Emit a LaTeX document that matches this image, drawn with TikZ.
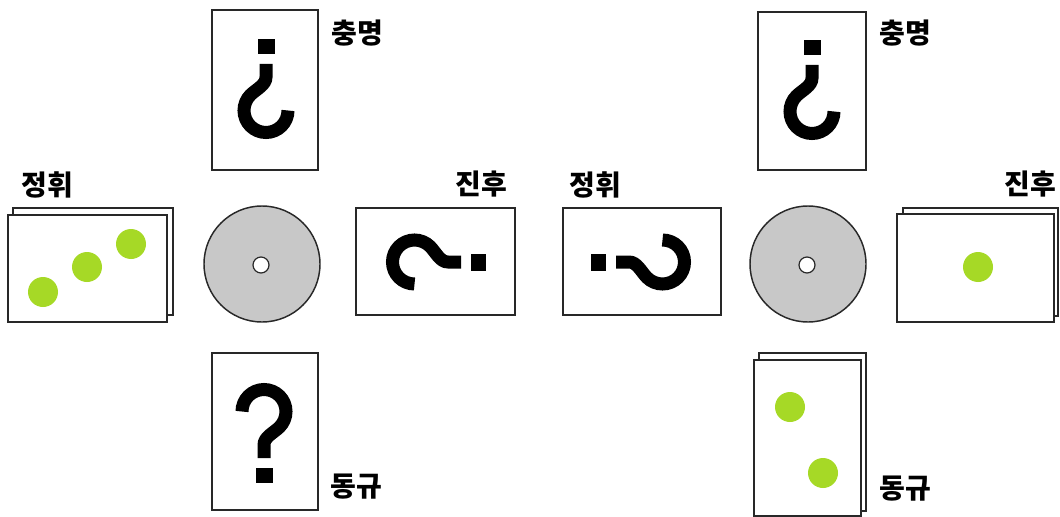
\documentclass[tikz,border=0pt]{standalone}
\usepackage{fontspec}
\newfontfamily\korfont{Noto Sans CJK KR}
\definecolor{lime}{RGB}{166,217,38}
\definecolor{edge}{RGB}{40,40,40}
\definecolor{disk}{RGB}{200,200,200}
% upright question mark drawn around (0,0), y pointing down
\newcommand\drawqmark{%
  \draw[qline] (-22,-21.5) arc[start angle=180, end angle=405, radius=22]
    .. controls (9.5,0) and (0,4) .. (0,12) -- (0,25);
  \fill (-8.5,35) rectangle (8.5,50);}
\begin{document}
\begin{tikzpicture}[x=0.75pt,y=-0.75pt,
  card/.style={draw=edge,line width=1.3pt,fill=white},
  dot/.style={fill=lime},
  disc/.style={draw=edge,line width=1.1pt,fill=disk},
  hole/.style={draw=edge,line width=0.9pt,fill=white},
  qline/.style={line width=9.75pt,line cap=butt},
  lab/.style={font=\korfont\bfseries\fontsize{21}{21}\selectfont,inner sep=0pt}]
\useasboundingbox (0,0) rectangle (1060,517);
% ---------- left group ----------
% left stacked card (정휘)
\draw[card] (13,208) rectangle (173,315);
\draw[card] (8,215) rectangle (167,322);
\fill[dot] (43,292) circle[radius=15];
\fill[dot] (87,267) circle[radius=15];
\fill[dot] (131,244) circle[radius=15];
\node[lab] (l1) at (47,185) {정휘};
% top card
\draw[card] (212,10) rectangle (318,170);
\begin{scope}[shift={(266,89)},rotate=180]\drawqmark\end{scope}
\node[lab] (l2) at (357,33) {충명};
% right card
\draw[card] (356,208) rectangle (515,315);
\begin{scope}[shift={(436,262)},rotate=90]\drawqmark\end{scope}
\node[lab] (l3) at (481,184) {진후};
% bottom card
\draw[card] (212,353) rectangle (318,510);
\begin{scope}[shift={(264,433)}]\drawqmark\end{scope}
\node[lab] (l4) at (356,487) {동규};
% disk
\draw[disc] (262,264) circle[radius=58];
\draw[hole] (261,265) circle[radius=8];
% ---------- right group ----------
% left card (정휘)
\draw[card] (563,208) rectangle (721,315);
\begin{scope}[shift={(641,262)},rotate=-90]\drawqmark\end{scope}
\node[lab] (l5) at (595,185) {정휘};
% top card
\draw[card] (758,12) rectangle (866,170);
\begin{scope}[shift={(812,90)},rotate=180]\drawqmark\end{scope}
\node[lab] (l6) at (905,33) {충명};
% right stacked card (진후)
\draw[card] (903,208) rectangle (1058,316);
\draw[card] (897,214) rectangle (1054,322);
\fill[dot] (978,267) circle[radius=15];
\node[lab] (l7) at (1030,184) {진후};
% bottom stacked card
\draw[card] (759,353) rectangle (866,511);
\draw[card] (754,360) rectangle (861,516);
\fill[dot] (790,407) circle[radius=15];
\fill[dot] (823,473) circle[radius=15];
\node[lab] (l8) at (905,489) {동규};
% disk
\draw[disc] (808,264) circle[radius=58];
\draw[hole] (807,265) circle[radius=8];
\end{tikzpicture}
\end{document}
